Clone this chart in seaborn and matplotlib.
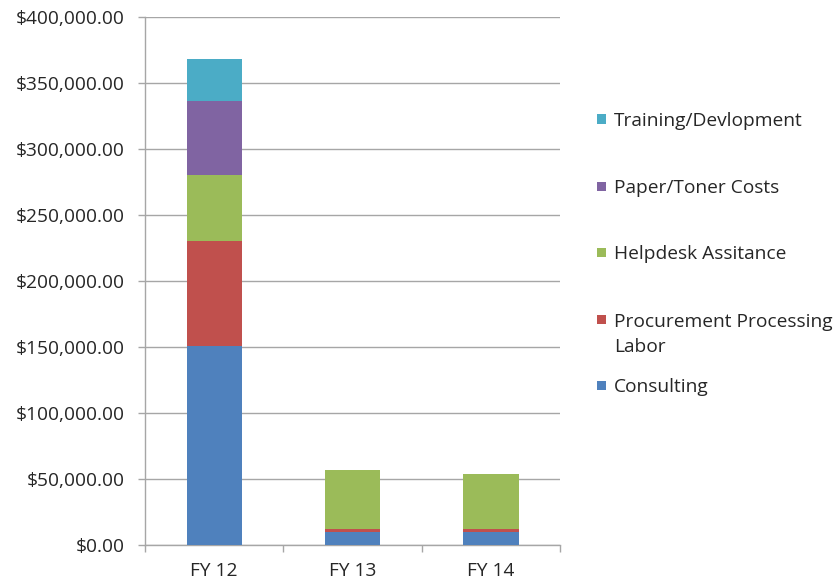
import matplotlib
matplotlib.use("Agg")
import matplotlib.pyplot as plt
from matplotlib.patches import Rectangle
from matplotlib.ticker import FuncFormatter, FixedLocator
import numpy as np
import pandas as pd
import seaborn as sns

years = ["FY 12", "FY 13", "FY 14"]
series = ["Consulting", "Procurement Processing\nLabor", "Helpdesk Assitance",
          "Paper/Toner Costs", "Training/Devlopment"]
consulting = [151000, 9500, 9500]
procurement = [79500, 2500, 2500]
helpdesk = [50000, 45000, 41700]
paper_toner = [55500, 0, 0]
training = [32000, 0, 0]
colors = ["#4F81BD", "#C0504D", "#9BBB59", "#8064A2", "#4BACC6"]

values = [consulting, procurement, helpdesk, paper_toner, training]
cumulative = np.cumsum(np.array(values, dtype=float), axis=0)

sns.set_theme(style="white")
plt.rcParams["font.family"] = ["Open Sans", "DejaVu Sans"]

W, H = 835, 585
fig = plt.figure(figsize=(W / 100, H / 100), dpi=100)
ax = fig.add_axes([145 / W, 1 - 545 / H, 415 / W, 528 / H])

# stacked bars: draw the running totals from the top layer down
for i in range(len(series) - 1, -1, -1):
    df = pd.DataFrame({"year": years, "total": cumulative[i]})
    sns.barplot(data=df, x="year", y="total", color=colors[i], width=0.4,
                saturation=1, edgecolor="none", linewidth=0, ax=ax, zorder=3)

ax.set_xlim(-0.5, 2.5)
ax.set_ylim(0, 400000)
ax.set_yticks(np.arange(0, 400001, 50000))
ax.yaxis.set_major_formatter(FuncFormatter(lambda v, p: f"${v:,.2f}"))
ax.set_xlabel("")
ax.set_ylabel("")

grey = "#A6A6A6"
ax.yaxis.grid(True, color=grey, linewidth=1.0, zorder=0)
ax.xaxis.grid(False)
for side in ["top", "right"]:
    ax.spines[side].set_visible(False)
for side in ["left", "bottom"]:
    ax.spines[side].set_color(grey)
    ax.spines[side].set_linewidth(1.0)

text_color = "#262626"
fs = 13.8
ax.tick_params(axis="y", which="major", length=5, width=1, color=grey,
               labelsize=fs, labelcolor=text_color, pad=9.5, left=True)
ax.tick_params(axis="x", which="major", length=0, labelsize=fs,
               labelcolor=text_color, pad=12)
ax.xaxis.set_minor_locator(FixedLocator([-0.5, 0.5, 1.5, 2.5]))
ax.tick_params(axis="x", which="minor", length=5, width=1, color=grey,
               bottom=True)

# legend on the right, top layer first; the marker sits on the first text line
legend_rows = [119, 186, 252, 319, 385]  # pixel rows of the entries, top to bottom
line_step = 26
for row, label, color in zip(legend_rows, series[::-1], colors[::-1]):
    fig.add_artist(Rectangle((597 / W, 1 - (row + 4.5) / H), 9 / W, 9 / H,
                             transform=fig.transFigure, facecolor=color,
                             edgecolor="none"))
    extra = label.count("\n") * line_step
    fig.text(614 / W, 1 - (row + 7 + extra) / H, label, ha="left",
             va="baseline", fontsize=fs, color=text_color, linespacing=1.52)

fig.savefig("out.png", dpi=100)
